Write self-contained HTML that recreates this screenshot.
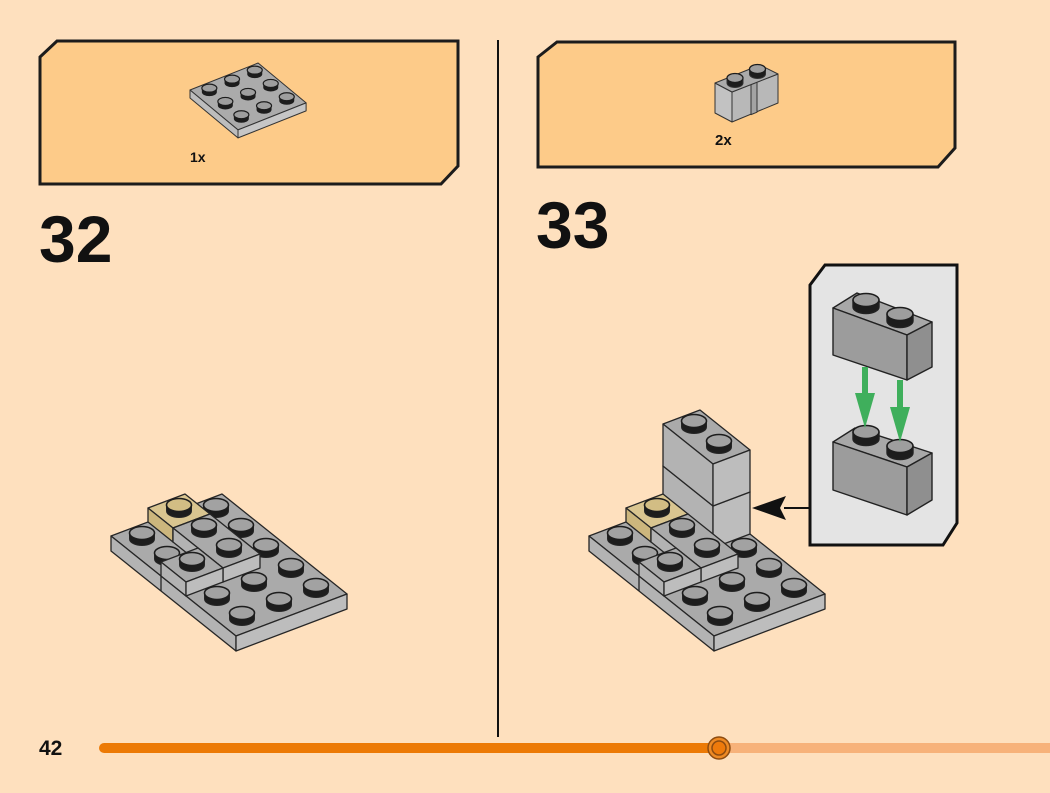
<!DOCTYPE html>
<html><head><meta charset="utf-8"><style>
html,body{margin:0;padding:0;background:#FEE0BE;}
svg{display:block;}
text{font-family:"Liberation Sans",Arial,sans-serif;font-weight:bold;fill:#111;}
</style></head><body>
<svg id="s" width="1050" height="793" viewBox="0 0 1050 793" xmlns="http://www.w3.org/2000/svg">
<rect width="1050" height="793" fill="#FEE0BE"/>
<!-- part boxes -->
<polygon points="40,57 57,41 458,41 458,166 441,184 40,184" fill="#FDCB89" stroke="#1c1c1c" stroke-width="3" stroke-linejoin="miter"/>
<polygon points="538,57 557,42 955,42 955,148 938,167 538,167" fill="#FDCB89" stroke="#1c1c1c" stroke-width="3"/>
<g id="plate3"></g>
<!-- 1x2 masonry brick -->
<g stroke="#333" stroke-width="1" stroke-linejoin="round">
<polygon points="715,83 732,92 732,122 715,113" fill="#C2C2C2"/>
<polygon points="732,92 778,74 778,103 732,122" fill="#B8B8B8"/>
<polygon points="751,84.6 757,82.2 757,112.2 751,114.6" fill="#A3A3A3"/>
<polygon points="715,83 732,92 778,74 760,65" fill="#ABABAB"/>
<path d="M727,78 L727,83 A8,4.5 0 0 0 743,83 L743,78 Z" fill="#1d1d1d"/>
<ellipse cx="735" cy="78" rx="8" ry="4.5" fill="#9E9E9E" stroke="#1d1d1d" stroke-width="1.3"/>
<path d="M749.5,69 L749.5,74 A8,4.5 0 0 0 765.5,74 L765.5,69 Z" fill="#1d1d1d"/>
<ellipse cx="757.5" cy="69" rx="8" ry="4.5" fill="#9E9E9E" stroke="#1d1d1d" stroke-width="1.3"/>
</g>
<text x="190" y="162" font-size="14">1x</text>
<text x="715" y="145" font-size="15">2x</text>
<text x="39" y="262" font-size="66">32</text>
<text x="536" y="248" font-size="66">33</text>
<!-- divider -->
<line x1="498" y1="40" x2="498" y2="737" stroke="#111" stroke-width="2"/>
<!-- models -->
<g id="m32"></g>
<g id="m33"></g>
<!-- callout -->
<line x1="784" y1="508" x2="811" y2="508" stroke="#111" stroke-width="2"/>
<polygon points="752,508 786,496 780,508 786,520" fill="#111"/>
<polygon points="810,285 825,265 957,265 957,523 943,545 810,545" fill="#E4E4E4" stroke="#111" stroke-width="3"/>
<g stroke="#222" stroke-width="1.4" stroke-linejoin="round">
<!-- bottom brick -->
<polygon points="833,442 855,428 932,453 907,467" fill="#A8A8A8"/>
<polygon points="833,442 907,467 907,515 833,490" fill="#9C9C9C"/>
<polygon points="907,467 932,453 932,500 907,515" fill="#8F8F8F"/>
<path d="M853,432 L853,439 A13,6.5 0 0 0 879,439 L879,432 Z" fill="#1d1d1d"/>
<ellipse cx="866" cy="432" rx="13" ry="6.5" fill="#9E9E9E" stroke="#1d1d1d" stroke-width="1.6"/>
<path d="M887,446 L887,453 A13,6.5 0 0 0 913,453 L913,446 Z" fill="#1d1d1d"/>
<ellipse cx="900" cy="446" rx="13" ry="6.5" fill="#9E9E9E" stroke="#1d1d1d" stroke-width="1.6"/>
<!-- top brick -->
<polygon points="833,308 857,293 932,322 907,335" fill="#A8A8A8"/>
<polygon points="833,308 907,335 907,380 833,355" fill="#9C9C9C"/>
<polygon points="907,335 932,322 932,367 907,380" fill="#8F8F8F"/>
<path d="M853,300 L853,307 A13,6.5 0 0 0 879,307 L879,300 Z" fill="#1d1d1d"/>
<ellipse cx="866" cy="300" rx="13" ry="6.5" fill="#9E9E9E" stroke="#1d1d1d" stroke-width="1.6"/>
<path d="M887,314 L887,321 A13,6.5 0 0 0 913,321 L913,314 Z" fill="#1d1d1d"/>
<ellipse cx="900" cy="314" rx="13" ry="6.5" fill="#9E9E9E" stroke="#1d1d1d" stroke-width="1.6"/>
</g>
<!-- green arrows -->
<g fill="#3FAF5C">
<rect x="862" y="367" width="6" height="28"/>
<polygon points="855,393 875,393 865,428"/>
<rect x="897" y="380" width="6" height="29"/>
<polygon points="890,407 910,407 900,442"/>
</g>
<!-- footer -->
<text x="39" y="755" font-size="21">42</text>
<line x1="104" y1="748" x2="718" y2="748" stroke="#EC7A06" stroke-width="10" stroke-linecap="round"/>
<line x1="718" y1="748" x2="1050" y2="748" stroke="#F7B27A" stroke-width="10"/>
<circle cx="719" cy="748" r="11" fill="#EE8A24" stroke="#8E4C10" stroke-width="1.5"/>
<circle cx="719" cy="748" r="7" fill="#EE7A0B" stroke="#8E4C10" stroke-width="1.5"/>
</svg>
<script>
(function(){
var NS='http://www.w3.org/2000/svg';
function mk(g,tag,at){var e=document.createElementNS(NS,tag);for(var k in at)e.setAttribute(k,at[k]);g.appendChild(e);return e;}
function pts(a){return a.map(function(p){return p[0].toFixed(1)+','+p[1].toFixed(1);}).join(' ');}
function model(g,Ax,Ay,bricks){
 var P=function(a,b,h){return [Ax+25*a+37*b, Ay+6+20*a-14*b-h];};
 var S='#262626';
 function poly(p,fill){mk(g,'polygon',{points:pts(p),fill:fill,stroke:S,'stroke-width':1.3,'stroke-linejoin':'round'});}
 function box(a0,a1,b0,b1,h0,h1,c){
  poly([P(a0,b0,h1),P(a1,b0,h1),P(a1,b1,h1),P(a0,b1,h1)],c.top);
  poly([P(a0,b0,h1),P(a1,b0,h1),P(a1,b0,h0),P(a0,b0,h0)],c.fl);
  poly([P(a1,b0,h1),P(a1,b1,h1),P(a1,b1,h0),P(a1,b0,h0)],c.fr);
 }
 function stud(a,b,h,cap){
  var p=P(a,b,h),x=p[0],y=p[1],rx=12.5,ry=6.5,sh=6;
  mk(g,'path',{d:'M'+(x-rx)+','+(y-sh)+'L'+(x-rx)+','+y+'A'+rx+','+ry+' 0 0 0 '+(x+rx)+','+y+'L'+(x+rx)+','+(y-sh)+'Z',fill:'#1d1d1d',stroke:S,'stroke-width':1});
  mk(g,'ellipse',{cx:x,cy:y-sh,rx:rx,ry:ry,fill:cap,stroke:'#1d1d1d','stroke-width':1.6});
 }
 var G={top:'#AAAAAA',fl:'#B3B3B3',fr:'#BDBDBD'}, T={top:'#D9C590',fl:'#CCB67D',fr:'#DDCB97'};
 var GC='#A2A2A2', TC='#D2BD84';
 box(-3.5,1.5,-0.5,2.5,-15,0,G);
 var s1=P(-1.5,-0.5,0),s2=P(-1.5,-0.5,-15);
 mk(g,'line',{x1:s1[0],y1:s1[1],x2:s2[0],y2:s2[1],stroke:S,'stroke-width':1.3});
 if(!bricks){stud(-3,2,0,GC);stud(-2,2,0,GC);}
 else{box(-3.5,-1.5,1.5,2.5,0,42,G);box(-3.5,-1.5,1.5,2.5,42,84,G);stud(-3,2,84,GC);stud(-2,2,84,GC);}
 stud(-1,2,0,GC);
 box(-3.5,-2.5,0.5,1.5,0,14,T); stud(-3,1,14,TC);
 box(-2.5,-0.5,0.5,1.5,0,14,G);
 stud(-3,0,0,GC); stud(-2,0,0,GC);
 box(-1.5,-0.5,-0.5,0.5,0,14,G);
 stud(-2,1,14,GC); stud(-1,1,14,GC); stud(-1,0,14,GC);
 [[0,2],[0,1],[1,2],[0,0],[1,1],[1,0]].forEach(function(c){stud(c[0],c[1],0,GC);});
}
model(document.getElementById('m32'),217,593,false);
model(document.getElementById('m33'),695,593,true);
// 3x3 plate
var g=document.getElementById('plate3');
var Q=function(i,j,h){return [190+16*i+22.7*j, 90+13.3*i-9*j-h];};
var S='#333';
function pp(p,f){mk(g,'polygon',{points:pts(p),fill:f,stroke:S,'stroke-width':1,'stroke-linejoin':'round'});}
pp([Q(0,0,0),Q(3,0,0),Q(3,3,0),Q(0,3,0)],'#ABABAB');
pp([Q(0,0,0),Q(3,0,0),Q(3,0,-8),Q(0,0,-8)],'#BDBDBD');
pp([Q(3,0,0),Q(3,3,0),Q(3,3,-8),Q(3,0,-8)],'#C6C6C6');
var st=[];for(var i=0;i<3;i++)for(var j=0;j<3;j++)st.push(Q(i+0.5,j+0.5,0));
st.sort(function(a,b){return a[1]-b[1];});
st.forEach(function(p){var x=p[0],y=p[1],rx=7.5,ry=4,sh=4;
 mk(g,'path',{d:'M'+(x-rx)+','+(y-sh)+'L'+(x-rx)+','+y+'A'+rx+','+ry+' 0 0 0 '+(x+rx)+','+y+'L'+(x+rx)+','+(y-sh)+'Z',fill:'#1d1d1d'});
 mk(g,'ellipse',{cx:x,cy:y-sh,rx:rx,ry:ry,fill:'#9E9E9E',stroke:'#1d1d1d','stroke-width':1.2});
});
})();
</script>
</body></html>
